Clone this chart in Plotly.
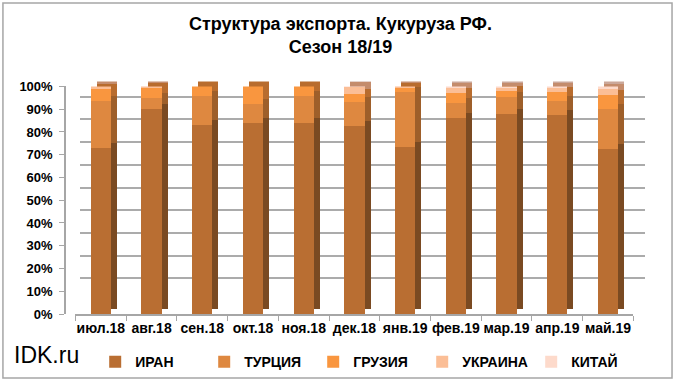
import plotly.graph_objects as go

months = ["июл.18", "авг.18", "сен.18", "окт.18", "ноя.18", "дек.18",
          "янв.19", "фев.19", "мар.19", "апр.19", "май.19"]
iran    = [73.0, 90.0, 83.0, 84.0, 84.0, 82.6, 73.3, 86.0, 88.0, 87.5, 72.4]
turkey  = [20.6,  5.0, 12.6,  8.1, 12.0, 10.5, 24.2,  6.6,  7.4,  6.3, 17.7]
georgia = [ 5.5,  4.5,  4.4,  7.9,  4.0,  3.5,  2.0,  4.4,  2.4,  3.9,  6.2]
ukraine = [ 0.9,  0.5,  0.0,  0.0,  0.0,  3.0,  0.5,  2.5,  1.7,  1.8,  2.4]
china   = [ 0.0,  0.0,  0.0,  0.0,  0.0,  0.4,  0.0,  0.5,  0.5,  0.5,  1.3]

series = [("ИРАН", iran), ("ТУРЦИЯ", turkey), ("ГРУЗИЯ", georgia),
          ("УКРАИНА", ukraine), ("КИТАЙ", china)]
front_colors = ["#B96E32", "#DE8840", "#F9963F", "#FBBE96", "#FDDACB"]
side_colors = ["#7A4A22", "#9E5F2A", "#B86C2E", "#C48C6C", "#CBA89A"]
ytick_vals = list(range(0, 101, 10))
ytick_text = [f"{v}%" for v in ytick_vals]

FONT = "Liberation Sans, Arial, sans-serif"
fig = go.Figure()

# back wall (gridlines only)
fig.add_trace(go.Scatter(x=months, y=[None] * len(months), xaxis="x", yaxis="y",
                         showlegend=False, hoverinfo="skip", mode="markers"))

# side faces (depth) - drawn first
for (name, vals), c in zip(series, side_colors):
    fig.add_trace(go.Bar(x=months, y=vals, xaxis="x2", yaxis="y2", width=0.4,
                         marker=dict(color=c, line=dict(width=0)),
                         showlegend=False, hoverinfo="skip"))

# front faces - drawn on top
for (name, vals), c in zip(series, front_colors):
    fig.add_trace(go.Bar(x=months, y=vals, name=name, xaxis="x3", yaxis="y3",
                         width=0.4, marker=dict(color=c, line=dict(width=0))))

fig.update_layout(
    width=680, height=384,
    margin=dict(l=65, r=35, t=74, b=70, autoexpand=False),
    paper_bgcolor="white", plot_bgcolor="rgba(0,0,0,0)",
    barmode="stack",
    font=dict(family=FONT, color="black"),
    # back wall axes
    xaxis=dict(domain=[0.026, 1.0], range=[-0.5, 10.5], visible=False,
               anchor="y", type="category", categoryarray=months),
    yaxis=dict(domain=[0.054, 1.0], range=[0, 100], anchor="x",
               showgrid=True, gridcolor="#ABABAB", gridwidth=1.5,
               tickvals=ytick_vals, showticklabels=False, zeroline=False,
               showline=False, ticks=""),
    # side-face axes
    xaxis2=dict(domain=[0.0286, 0.9903], range=[-0.5, 10.5], anchor="y2",
                type="category", categoryarray=months, visible=False),
    yaxis2=dict(domain=[0.0208, 0.9688], range=[0, 100], anchor="x2", visible=False),
    # front axes
    xaxis3=dict(domain=[0.018, 0.98], range=[-0.5, 10.5], anchor="y3",
                type="category", categoryarray=months, tickangle=0,
                showline=True, linecolor="#A6A6A6", linewidth=1.5,
                ticks="outside", tickson="boundaries", ticklen=5, tickcolor="#A6A6A6",
                showgrid=False, tickfont=dict(size=14, weight="bold", family=FONT)),
    yaxis3=dict(domain=[0.0, 0.948], range=[0, 100], anchor="free", position=0,
                tickvals=ytick_vals, ticktext=ytick_text, showgrid=False,
                showline=True, linecolor="#A6A6A6", linewidth=1.5,
                ticks="outside", ticklen=5, tickcolor="#A6A6A6", zeroline=False,
                ticklabelstandoff=4,
                tickfont=dict(size=13, weight="bold", family=FONT)),
    legend=dict(orientation="h", xref="container", yref="container",
                x=0.14, xanchor="left", y=0.057, yanchor="middle",
                entrywidth=64, entrywidthmode="pixels", traceorder="normal",
                font=dict(size=14, weight="bold", family=FONT),
                bgcolor="rgba(0,0,0,0)"),
    shapes=[dict(type="rect", xref="paper", yref="paper",
                 x0=-0.107, x1=1.0466, y0=-0.2667, y1=1.296,
                 line=dict(color="#A6A6A6", width=1.5), fillcolor="rgba(0,0,0,0)",
                 layer="below")],
    annotations=[
        dict(text="<b>Структура экспорта. Кукуруза РФ.<br>Сезон 18/19</b>",
             xref="paper", yref="paper", x=(340 - 65) / 580, y=(314 - 36) / 240,
             xanchor="center", yanchor="middle", align="center", showarrow=False,
             font=dict(size=18, family=FONT)),
        dict(text="IDK.ru", xref="paper", yref="paper",
             x=-0.091, y=-0.171, xanchor="left", yanchor="middle",
             showarrow=False, font=dict(size=23, family=FONT)),
    ],
)

fig.write_html("out.html", config={"displayModeBar": False},
               post_script="document.body.style.margin='0';")
